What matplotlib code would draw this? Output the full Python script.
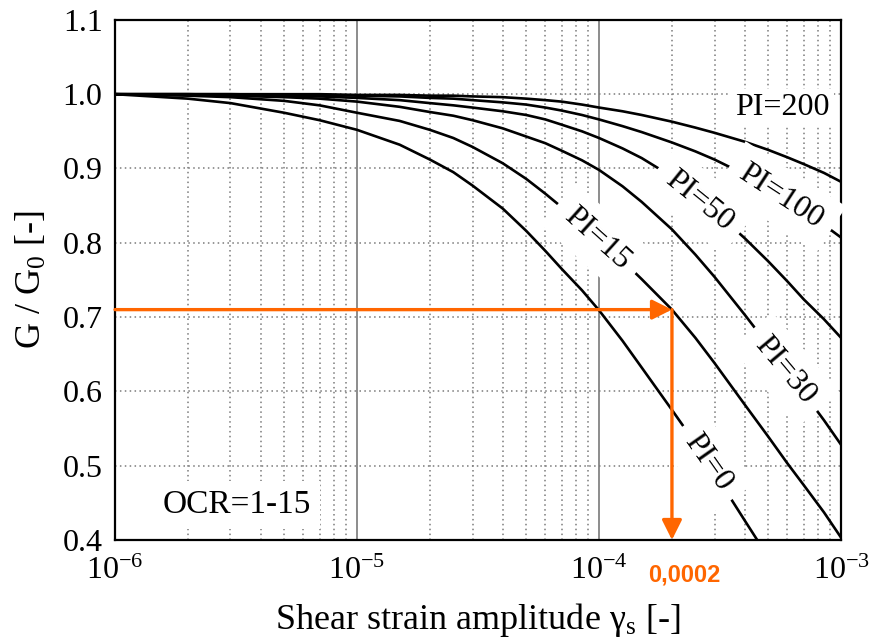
import matplotlib
matplotlib.use('Agg')
import matplotlib.pyplot as plt
import matplotlib.transforms as mtransforms
from matplotlib.ticker import LogLocator, NullFormatter

######################################
### DATA                           ###
######################################

# shear strain amplitude (log axis)
strain = [1e-6, 2e-6, 3e-6, 5e-6, 7e-6, 1e-5, 1.5e-5, 2e-5, 2.5e-5, 3e-5, 4e-5,
          5e-5, 6e-5, 7e-5, 8.5e-5, 1e-4, 1.25e-4, 1.5e-4, 2e-4, 2.5e-4, 3e-4,
          4e-4, 5e-4, 6e-4, 7e-4, 8.5e-4, 1e-3]
strain_pi0 = [1e-6, 2e-6, 3e-6, 5e-6, 7e-6, 1e-5, 1.5e-5, 2e-5, 2.5e-5, 3e-5, 4e-5,
              5e-5, 6e-5, 7e-5, 8.5e-5, 1e-4, 1.25e-4, 1.5e-4, 2e-4, 2.5e-4, 3e-4,
              4e-4, 4.5e-4]

# G/G0
g_pi0 = [1.0, 0.994, 0.988, 0.975, 0.965, 0.952, 0.932, 0.912, 0.895, 0.877, 0.846,
         0.816, 0.789, 0.765, 0.736, 0.709, 0.668, 0.632, 0.575, 0.530, 0.490,
         0.426, 0.400]
g_pi15 = [1.0, 0.998, 0.996, 0.991, 0.985, 0.975, 0.964, 0.952, 0.941, 0.929, 0.907,
          0.886, 0.866, 0.848, 0.825, 0.805, 0.776, 0.751, 0.710, 0.672, 0.638,
          0.582, 0.539, 0.503, 0.474, 0.437, 0.403]
g_pi30 = [1.0, 0.999, 0.998, 0.996, 0.994, 0.990, 0.983, 0.976, 0.971, 0.965, 0.954,
          0.943, 0.934, 0.924, 0.911, 0.898, 0.876, 0.855, 0.818, 0.784, 0.754,
          0.703, 0.662, 0.628, 0.598, 0.561, 0.528]
g_pi50 = [1.0, 1.0, 0.999, 0.998, 0.997, 0.995, 0.992, 0.988, 0.985, 0.982, 0.977,
          0.972, 0.966, 0.959, 0.950, 0.941, 0.927, 0.914, 0.889, 0.865, 0.843,
          0.806, 0.775, 0.748, 0.724, 0.697, 0.672]
g_pi100 = [1.0, 1.0, 1.0, 0.999, 0.999, 0.998, 0.997, 0.995, 0.994, 0.992, 0.989,
           0.986, 0.982, 0.978, 0.972, 0.966, 0.957, 0.949, 0.935, 0.923, 0.912,
           0.892, 0.873, 0.857, 0.842, 0.824, 0.807]
g_pi200 = [1.0, 1.0, 1.0, 1.0, 1.0, 0.999, 0.999, 0.998, 0.998, 0.997, 0.996,
           0.994, 0.992, 0.990, 0.986, 0.982, 0.977, 0.972, 0.963, 0.955, 0.948,
           0.936, 0.925, 0.915, 0.906, 0.894, 0.882]

# inline curve labels
label_text = ['PI=0', 'PI=15', 'PI=30', 'PI=50', 'PI=100', 'PI=200']
label_x = [2.81e-4, 9.8e-5, 5.87e-4, 2.59e-4, 5.65e-4, 5.71e-4]
label_y = [0.504, 0.806, 0.629, 0.857, 0.862, 0.9815]
label_rot = [-55, -42, -50, -39, -33, 0]

x_ticks = [1e-6, 1e-5, 1e-4, 1e-3]
x_ticklabels = ['$10^{-6}$', '$10^{-5}$', '$10^{-4}$', '$10^{-3}$']
y_ticks = [0.4, 0.5, 0.6, 0.7, 0.8, 0.9, 1.0, 1.1]
y_ticklabels = ['0.4', '0.5', '0.6', '0.7', '0.8', '0.9', '1.0', '1.1']

# reading example (orange)
ref_strain = 2e-4
ref_ratio = 0.71
ref_text = '0,0002'

######################################
### PLOT                           ###
######################################

plt.rcParams['font.family'] = ['Liberation Serif', 'DejaVu Serif']
plt.rcParams['mathtext.fontset'] = 'custom'
plt.rcParams['mathtext.rm'] = 'Liberation Serif'
plt.rcParams['mathtext.it'] = 'Liberation Serif:italic'

orange = '#FF6600'

fig = plt.figure(figsize=(8.78, 6.42), dpi=100)
ax = fig.add_axes([0.131, 0.159, 0.827, 0.81])
ax.set_xscale('log')
ax.set_xlim(1e-6, 1e-3)
ax.set_ylim(0.4, 1.1)

ax.set_xticks(x_ticks)
ax.set_xticklabels(x_ticklabels)
ax.xaxis.set_minor_locator(LogLocator(base=10, subs=range(2, 10)))
ax.xaxis.set_minor_formatter(NullFormatter())
ax.set_yticks(y_ticks)
ax.set_yticklabels(y_ticklabels)
ax.tick_params(which='both', length=0, labelsize=23)
ax.tick_params(axis='x', pad=12)
ax.tick_params(axis='y', pad=9)

# grid
dots = (0, (1, 2.2))
ax.grid(which='major', axis='x', color='#8c8c8c', lw=1.4, ls='-')
ax.grid(which='minor', axis='x', color='#7a7a7a', lw=1.1, ls=dots)
ax.grid(which='major', axis='y', color='#7a7a7a', lw=1.1, ls=dots)
ax.set_axisbelow(True)
for s in ax.spines.values():
    s.set_linewidth(1.6)

# curves
ax.plot(strain_pi0, g_pi0, color='black', lw=1.9, zorder=2, solid_joinstyle='round')
for g in [g_pi15, g_pi30, g_pi50, g_pi100, g_pi200]:
    ax.plot(strain, g, color='black', lw=1.9, zorder=2, solid_joinstyle='round')

for txt, lx, ly, rot in zip(label_text, label_x, label_y, label_rot):
    pad = 0.15 if rot == 0 else 0.4
    ax.text(lx, ly, txt, fontsize=23, rotation=rot, rotation_mode='anchor',
            ha='center', va='center', zorder=4,
            bbox=dict(boxstyle='square,pad=%s' % pad, fc='white', ec='none'))

ax.text(1.58e-6, 0.447, 'OCR=1-15', fontsize=24, ha='left', va='center', zorder=4,
        bbox=dict(boxstyle='square,pad=0.25', fc='white', ec='none'))

# orange reading arrows
arrow = dict(arrowstyle='-|>,head_length=0.6,head_width=0.3', color=orange,
             lw=2.4, shrinkA=0, shrinkB=0, mutation_scale=20)
ax.annotate('', xy=(ref_strain, ref_ratio), xytext=(1e-6, ref_ratio),
            arrowprops=arrow, zorder=5, annotation_clip=False)
ax.annotate('', xy=(ref_strain, 0.4), xytext=(ref_strain, ref_ratio),
            arrowprops=arrow, zorder=5, annotation_clip=False)
trans = mtransforms.blended_transform_factory(ax.transData, ax.transAxes)
ax.text(2.24e-4, -0.067, ref_text, transform=trans, color=orange, fontsize=17,
        fontweight='bold', family='Liberation Sans', ha='center', va='center')

ax.set_xlabel('Shear strain amplitude γ$_\\mathrm{s}$ [-]', fontsize=26, labelpad=11)
ax.set_ylabel('G / G$_\\mathrm{0}$ [-]', fontsize=26, labelpad=10)

plt.savefig('out.png', dpi=100)
